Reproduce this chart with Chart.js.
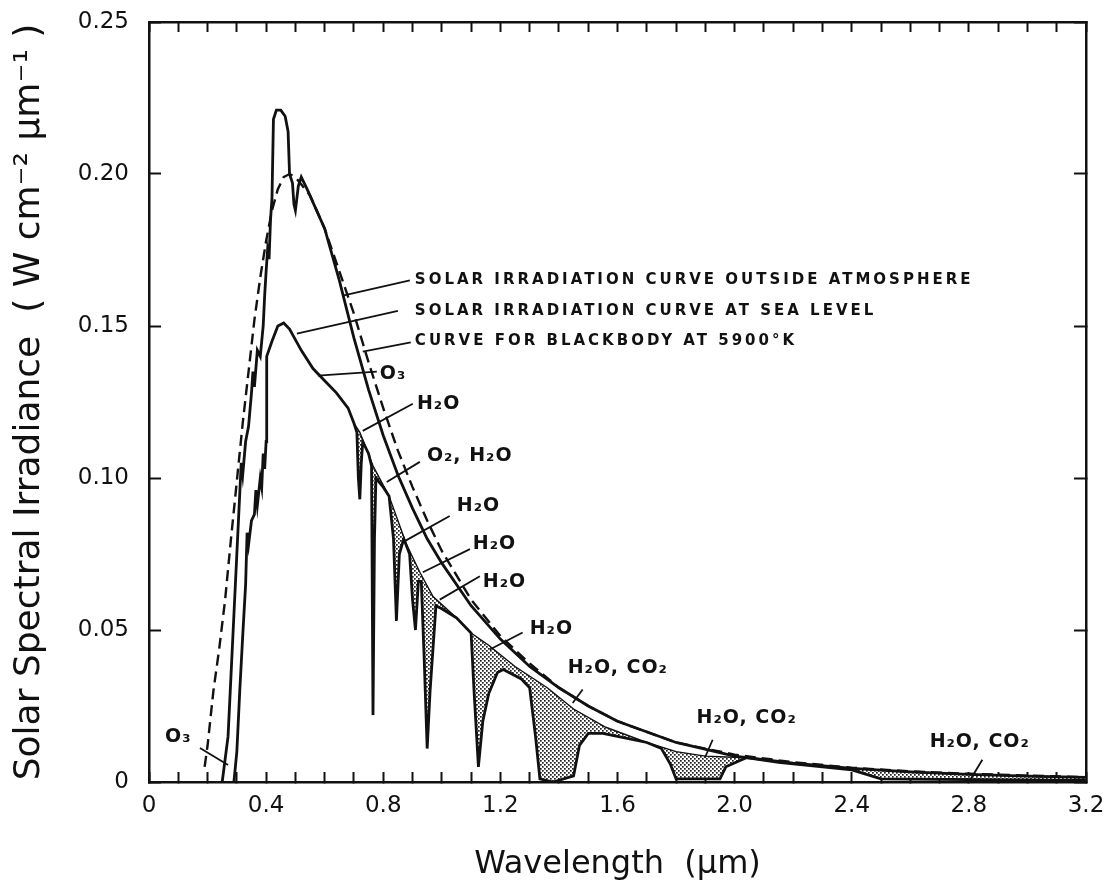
<!DOCTYPE html>
<html>
<head>
<meta charset="utf-8">
<title>Solar spectral irradiance</title>
<script src="https://cdn.jsdelivr.net/npm/chart.js@4.4.1/dist/chart.umd.min.js"></script>
<style>
  html, body { margin: 0; padding: 0; background: #fff; }
  #chart { display: block; }
</style>
</head>
<body>
<canvas id="chart" width="1107" height="891"></canvas>
<script>
// Valeurs : longueur d'onde (µm) / éclairement (W cm-2 µm-1)

// Courbe hors atmosphère
const outsideWl = [0.25, 0.27, 0.28, 0.29, 0.30, 0.31, 0.315, 0.32, 0.33, 0.34, 0.35, 0.355, 0.36, 0.37, 0.38, 0.39, 0.395, 0.40, 0.405, 0.41,
    0.415, 0.42, 0.425, 0.435, 0.45, 0.465, 0.475, 0.48, 0.49, 0.495, 0.50, 0.51, 0.52, 0.54, 0.60, 0.65, 0.70, 0.75, 0.80, 0.85,
    0.90, 0.95, 1.00, 1.10, 1.20, 1.30, 1.40, 1.50, 1.60, 1.80, 2.00, 2.20, 2.40, 2.60, 2.80, 3.00, 3.20];
const outsideIrr = [0.000, 0.015, 0.035, 0.055, 0.075, 0.095, 0.105, 0.101, 0.112, 0.117, 0.128, 0.135, 0.130, 0.142, 0.140, 0.150, 0.160, 0.168, 0.175, 0.172,
    0.185, 0.192, 0.218, 0.221, 0.221, 0.219, 0.214, 0.200, 0.197, 0.190, 0.188, 0.196, 0.199, 0.195, 0.182, 0.165, 0.146, 0.129, 0.114, 0.101,
    0.090, 0.080, 0.072, 0.058, 0.047, 0.038, 0.031, 0.025, 0.020, 0.013, 0.0085, 0.0062, 0.0045, 0.0033, 0.0025, 0.0019, 0.0015];

// Courbe au niveau de la mer
const seaWl = [0.29, 0.30, 0.31, 0.32, 0.33, 0.335, 0.34, 0.35, 0.36, 0.365, 0.37, 0.38, 0.385, 0.39, 0.395, 0.40, 0.402, 0.42, 0.44, 0.46,
    0.48, 0.52, 0.56, 0.60, 0.64, 0.68, 0.70, 0.71, 0.715, 0.72, 0.725, 0.73, 0.75, 0.76, 0.765, 0.77, 0.775, 0.80, 0.82, 0.835,
    0.845, 0.855, 0.87, 0.89, 0.90, 0.91, 0.92, 0.93, 0.94, 0.95, 0.96, 0.98, 1.00, 1.05, 1.10, 1.11, 1.125, 1.14, 1.16, 1.19,
    1.21, 1.27, 1.30, 1.32, 1.335, 1.38, 1.45, 1.47, 1.50, 1.55, 1.60, 1.70, 1.75, 1.78, 1.80, 1.95, 1.97, 2.04, 2.15, 2.30,
    2.40, 2.50, 3.20];
const seaIrr = [0.000, 0.010, 0.030, 0.048, 0.065, 0.082, 0.078, 0.086, 0.088, 0.096, 0.091, 0.100, 0.097, 0.108, 0.103, 0.112, 0.140, 0.145, 0.150, 0.151,
    0.149, 0.142, 0.136, 0.132, 0.128, 0.123, 0.118, 0.115, 0.100, 0.093, 0.105, 0.112, 0.108, 0.104, 0.022, 0.080, 0.100, 0.097, 0.094, 0.080,
    0.053, 0.075, 0.080, 0.075, 0.060, 0.050, 0.066, 0.066, 0.040, 0.011, 0.030, 0.058, 0.057, 0.054, 0.049, 0.030, 0.005, 0.020, 0.029, 0.036,
    0.037, 0.034, 0.031, 0.015, 0.001, 0.000, 0.002, 0.012, 0.016, 0.016, 0.015, 0.013, 0.011, 0.006, 0.001, 0.001, 0.005, 0.008, 0.0065, 0.005,
    0.004, 0.001, 0.0005];

// Corps noir à 5900 K (tirets)
const bbWl = [0.19, 0.20, 0.22, 0.24, 0.26, 0.28, 0.30, 0.32, 0.34, 0.36, 0.38, 0.40, 0.42, 0.44, 0.46, 0.48, 0.50, 0.55, 0.60, 0.65,
    0.70, 0.75, 0.80, 0.85, 0.90, 0.95, 1.0, 1.1, 1.2, 1.3, 1.4, 1.5, 1.6, 1.8, 2.0, 2.2, 2.4, 2.6, 2.8, 3.0, 3.2];
const bbIrr = [0.005, 0.012, 0.030, 0.044, 0.060, 0.080, 0.099, 0.118, 0.135, 0.152, 0.166, 0.178, 0.188, 0.195, 0.199, 0.200, 0.199, 0.193, 0.182, 0.168,
    0.154, 0.138, 0.123, 0.109, 0.097, 0.086, 0.076, 0.060, 0.048, 0.039, 0.031, 0.025, 0.020, 0.013, 0.009, 0.0065, 0.0047, 0.0035, 0.0027, 0.0021, 0.0016];

// Limite supérieure des zones d'absorption (hachurées)
const envWl = [0.70, 0.72, 0.765, 0.82, 0.88, 0.925, 0.97, 1.05, 1.10, 1.16, 1.25, 1.36, 1.45, 1.56, 1.70, 1.80, 1.90, 2.04, 2.20, 2.40, 2.60, 2.80, 3.00, 3.20];
const envIrr = [0.118, 0.115, 0.104, 0.094, 0.078, 0.069, 0.061, 0.054, 0.049, 0.045, 0.038, 0.031, 0.024, 0.018, 0.013, 0.010, 0.0085, 0.008, 0.006, 0.0045, 0.0032, 0.0025, 0.0019, 0.0015];

// Étiquettes des axes
const xTickLabels = ['0', '0.4', '0.8', '1.2', '1.6', '2.0', '2.4', '2.8', '3.2'];
const yTickLabels = ['0', '0.05', '0.10', '0.15', '0.20', '0.25'];

// Légendes dans le graphique : [texte, x, y] en unités des données
const curveNotes = [
    ['SOLAR IRRADIATION CURVE OUTSIDE ATMOSPHERE', 0.908, 0.1650],
    ['SOLAR IRRADIATION CURVE AT SEA LEVEL', 0.908, 0.1550],
    ['CURVE FOR BLACKBODY AT 5900°K', 0.908, 0.1449]
];
const bandNotes = [
    ['O₃', 0.788, 0.1343],
    ['H₂O', 0.915, 0.1244],
    ['O₂, H₂O', 0.949, 0.1073],
    ['H₂O', 1.051, 0.0908],
    ['H₂O', 1.106, 0.0782],
    ['H₂O', 1.140, 0.0657],
    ['H₂O', 1.300, 0.0502],
    ['H₂O, CO₂', 1.430, 0.0376],
    ['H₂O, CO₂', 1.870, 0.0211],
    ['H₂O, CO₂', 2.666, 0.0132],
    ['O₃', 0.055, 0.0149]
];
// Traits de rappel : [x1, y1, x2, y2]
const leaders = [
    [0.891, 0.1650, 0.662, 0.1600],
    [0.850, 0.1550, 0.505, 0.1475],
    [0.894, 0.1446, 0.730, 0.1416],
    [0.778, 0.1350, 0.577, 0.1337],
    [0.901, 0.1244, 0.730, 0.1155],
    [0.925, 0.1053, 0.812, 0.0987],
    [1.027, 0.0875, 0.867, 0.0789],
    [1.096, 0.0766, 0.935, 0.0690],
    [1.130, 0.0677, 0.993, 0.0600],
    [1.276, 0.0492, 1.164, 0.0436],
    [1.481, 0.0304, 1.447, 0.0260],
    [1.925, 0.0139, 1.898, 0.0079],
    [2.846, 0.0073, 2.800, 0.0000],
    [0.174, 0.0112, 0.270, 0.0056]
];

const INK = '#111';
const FONT = '"DejaVu Sans", "Liberation Sans", sans-serif';

function toPoints(xs, ys) {
    return xs.map((x, i) => ({ x: x, y: ys[i] }));
}

// Motif pointillé pour les bandes d'absorption
function makeStipple() {
    const c = document.createElement('canvas');
    c.width = 4; c.height = 4;
    const g = c.getContext('2d');
    g.fillStyle = '#fff';
    g.fillRect(0, 0, 4, 4);
    g.fillStyle = '#222';
    g.fillRect(0, 0, 1.7, 1.7);
    g.fillRect(2, 2, 1.7, 1.7);
    return g.createPattern(c, 'repeat');
}

// Taille fixe des axes, sans marge ajoutée pour les libellés qui débordent
function fixSize(size) {
    return (s) => {
        if (s.isHorizontal()) s.height = size; else s.width = size;
        s.paddingLeft = s.paddingRight = s.paddingTop = s.paddingBottom = 0;
    };
}

const annotations = {
    id: 'annotations',
    afterDatasetsDraw(chart) {
        const { ctx, scales: { x, y } } = chart;
        ctx.save();
        ctx.strokeStyle = INK;
        ctx.lineWidth = 1.8;
        leaders.forEach(([x1, y1, x2, y2]) => {
            ctx.beginPath();
            ctx.moveTo(x.getPixelForValue(x1), y.getPixelForValue(y1));
            ctx.lineTo(x.getPixelForValue(x2), y.getPixelForValue(y2));
            ctx.stroke();
        });
        ctx.fillStyle = INK;
        ctx.textAlign = 'left';
        ctx.textBaseline = 'middle';
        ctx.font = 'bold 15px ' + FONT;
        ctx.letterSpacing = '3px';
        curveNotes.forEach(([t, px, py]) => ctx.fillText(t, x.getPixelForValue(px), y.getPixelForValue(py)));
        ctx.font = 'bold 19px ' + FONT;
        ctx.letterSpacing = '1px';
        bandNotes.forEach(([t, px, py]) => ctx.fillText(t, x.getPixelForValue(px), y.getPixelForValue(py)));
        ctx.restore();
    }
};

const ctx = document.getElementById('chart').getContext('2d');
const tickFont = { family: FONT, size: 23 };

new Chart(ctx, {
    type: 'line',
    data: {
        datasets: [
            { label: 'outside', data: toPoints(outsideWl, outsideIrr), borderColor: INK, borderWidth: 2.8, pointRadius: 0, fill: false },
            { label: 'sea level', data: toPoints(seaWl, seaIrr), borderColor: INK, borderWidth: 2.8, pointRadius: 0, fill: false },
            { label: 'blackbody', data: toPoints(bbWl, bbIrr), borderColor: INK, borderWidth: 2.4, borderDash: [11, 6], pointRadius: 0, fill: false },
            { label: 'envelope', data: toPoints(envWl, envIrr), borderColor: INK, borderWidth: 1.4, pointRadius: 0, fill: 1, backgroundColor: makeStipple() }
        ]
    },
    options: {
        responsive: false,
        animation: false,
        parsing: false,
        layout: { padding: 0 },
        plugins: {
            legend: { display: false },
            tooltip: { enabled: false }
        },
        scales: {
            x: {
                type: 'linear', position: 'bottom', min: 0, max: 3.2,
                afterFit: fixSize(109),
                border: { display: true, color: INK, width: 2.5 },
                grid: { drawOnChartArea: false, drawTicks: true, tickLength: -10, tickColor: INK, tickWidth: 2 },
                ticks: {
                    stepSize: 0.1, autoSkip: false, maxRotation: 0, padding: 20, color: INK, font: tickFont,
                    callback: (v) => { const i = Math.round(v * 10); return i % 4 === 0 ? xTickLabels[i / 4] : ''; }
                },
                title: { display: true, text: 'Wavelength  (µm)', color: INK, font: { family: FONT, size: 32 }, padding: { top: 0, bottom: 7 } }
            },
            x2: {
                type: 'linear', position: 'top', min: 0, max: 3.2,
                afterFit: fixSize(22),
                border: { display: true, color: INK, width: 2.5 },
                grid: { drawOnChartArea: false, drawTicks: true, tickLength: -10, tickColor: INK, tickWidth: 2 },
                ticks: { stepSize: 0.1, autoSkip: false, display: false }
            },
            y: {
                type: 'linear', position: 'left', min: 0, max: 0.25,
                afterFit: fixSize(149),
                border: { display: true, color: INK, width: 2.5 },
                grid: { drawOnChartArea: false, drawTicks: true, tickLength: -12, tickColor: INK, tickWidth: 2 },
                ticks: {
                    stepSize: 0.05, padding: 32, color: INK, font: tickFont,
                    callback: (v) => yTickLabels[Math.round(v * 20)]
                },
                title: { display: true, text: 'Solar Spectral Irradiance  ( W cm⁻² µm⁻¹ )', color: INK, font: { family: FONT, size: 36 }, padding: { top: 8, bottom: 0 } }
            },
            y2: {
                type: 'linear', position: 'right', min: 0, max: 0.25,
                afterFit: fixSize(21),
                border: { display: true, color: INK, width: 2.5 },
                grid: { drawOnChartArea: false, drawTicks: true, tickLength: -12, tickColor: INK, tickWidth: 2 },
                ticks: { stepSize: 0.05, display: false }
            }
        }
    },
    plugins: [annotations]
});
</script>
</body>
</html>
